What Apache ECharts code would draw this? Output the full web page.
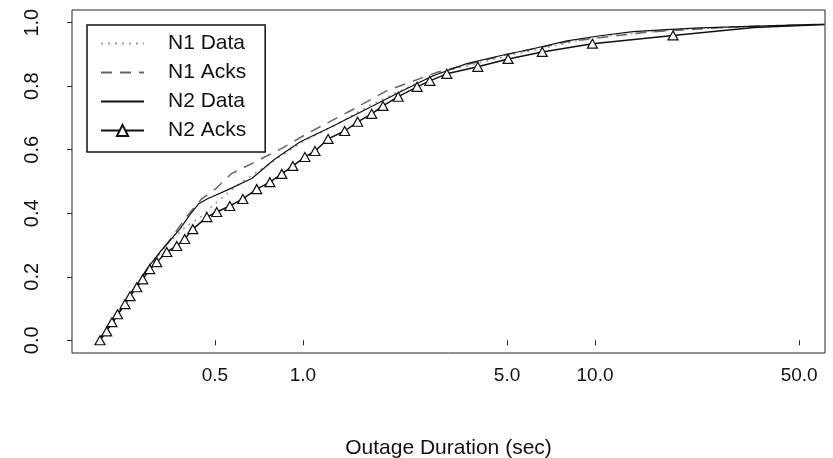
<!DOCTYPE html>
<html>
<head>
<meta charset="utf-8">
<script src="https://cdn.jsdelivr.net/npm/echarts@6/dist/echarts.min.js"></script>
<style>
  html, body { margin: 0; padding: 0; background: #fff; }
  #chart { width: 833px; height: 458px; }
</style>
</head>
<body>
<div id="chart"></div>
<script>
// x tick labels (log axis) and y tick labels
const xTicks = [0.5, 1, 5, 10, 50]
const yTicks = [0, 0.2, 0.4, 0.6, 0.8, 1.0]

// N1 Data (dotted)
const n1DataX = [0.2, 0.25, 0.3, 0.35, 0.4, 0.45, 0.5, 0.6, 0.75, 1.0, 1.3, 1.7, 2.2, 3.0, 5.0, 10, 20, 61]
const n1DataY = [0, 0.13, 0.24, 0.31, 0.36, 0.39, 0.43, 0.49, 0.55, 0.625, 0.68, 0.74, 0.79, 0.845, 0.895, 0.955, 0.98, 0.995]

// N1 Acks (dashed)
const n1AcksX = [0.2, 0.25, 0.3, 0.35, 0.4, 0.45, 0.5, 0.57, 0.68, 0.85, 1.03, 1.45, 1.94, 2.9, 5.0, 8.0, 15, 30, 61]
const n1AcksY = [0, 0.13, 0.235, 0.315, 0.39, 0.445, 0.475, 0.525, 0.56, 0.605, 0.65, 0.722, 0.786, 0.845, 0.9, 0.94, 0.97, 0.987, 0.995]

// N2 Data (solid)
const n2DataX = [0.2, 0.224, 0.256, 0.292, 0.324, 0.379, 0.41, 0.44, 0.47, 0.56, 0.67, 0.8, 0.98, 1.27, 1.66, 2.15, 2.79, 3.64, 4.73, 6.13, 8.02, 10.4, 13.5, 17.6, 22.9, 29.7, 38.7, 54.5, 61]
const n2DataY = [0, 0.057, 0.139, 0.224, 0.278, 0.35, 0.395, 0.43, 0.445, 0.476, 0.51, 0.57, 0.625, 0.675, 0.729, 0.782, 0.833, 0.871, 0.896, 0.918, 0.943, 0.959, 0.972, 0.978, 0.984, 0.987, 0.99, 0.994, 0.995]

// N2 Acks (triangles); the last two points carry the line on without a marker
const n2AcksX = [0.202, 0.213, 0.222, 0.232, 0.246, 0.256, 0.27, 0.283, 0.299, 0.316, 0.342, 0.37, 0.394, 0.42, 0.469, 0.507, 0.562, 0.623, 0.695, 0.771, 0.847, 0.924, 1.016, 1.1, 1.22, 1.39, 1.54, 1.72, 1.88, 2.12, 2.46, 2.72, 3.11, 3.97, 5.04, 6.6, 9.8, 18.5, 35, 61]
const n2AcksY = [0, 0.028, 0.057, 0.082, 0.114, 0.139, 0.167, 0.192, 0.224, 0.246, 0.278, 0.297, 0.319, 0.35, 0.388, 0.404, 0.423, 0.445, 0.476, 0.498, 0.524, 0.549, 0.577, 0.596, 0.634, 0.659, 0.688, 0.713, 0.738, 0.767, 0.798, 0.817, 0.839, 0.861, 0.886, 0.908, 0.934, 0.96, 0.985, 0.994]
const n2AcksMarked = 38

const pairs = (xs, ys) => xs.map((x, i) => [x, ys[i]])

const font = 'Liberation Sans, Arial, sans-serif'

const chart = echarts.init(document.getElementById('chart'))

const option = {
  backgroundColor: '#fff',
  animation: false,
  grid: {
    left: 72,
    right: 8,
    top: 10,
    bottom: 105,
    outerBoundsMode: 'none',
    show: true,
    borderColor: '#222',
    borderWidth: 1
  },
  legend: {
    orient: 'vertical',
    left: 87,
    top: 25,
    padding: [8, 19, 11, 13],
    borderColor: '#111',
    borderWidth: 1.5,
    backgroundColor: '#fff',
    itemWidth: 43,
    itemHeight: 14,
    itemGap: 8,
    textStyle: {
      fontFamily: font,
      fontSize: 21,
      color: '#111',
      padding: [0, 0, 0, 19]
    },
    data: [
      { name: 'N1 Data', itemStyle: { opacity: 0 } },
      { name: 'N1 Acks', itemStyle: { opacity: 0 } },
      { name: 'N2 Data', itemStyle: { opacity: 0 } },
      { name: 'N2 Acks' }
    ]
  },
  xAxis: {
    type: 'log',
    min: 0.162,
    max: 61.3,
    name: 'Outage Duration (sec)',
    nameLocation: 'middle',
    nameGap: 85,
    nameTextStyle: { fontFamily: font, fontSize: 21, color: '#111' },
    axisLine: { show: false },
    axisTick: { show: true, length: 5, customValues: xTicks, lineStyle: { color: '#222' } },
    axisLabel: {
      customValues: xTicks,
      margin: 13,
      fontFamily: font,
      fontSize: 19,
      color: '#111',
      formatter: v => Number(v).toFixed(1)
    },
    splitLine: { show: false },
    minorTick: { show: false }
  },
  yAxis: {
    type: 'value',
    min: -0.04,
    max: 1.04,
    axisLine: { show: false },
    axisTick: { show: true, length: 5, customValues: yTicks, lineStyle: { color: '#222' } },
    axisLabel: {
      customValues: yTicks,
      rotate: 90,
      margin: 30,
      fontFamily: font,
      fontSize: 20,
      color: '#111',
      formatter: v => Number(v).toFixed(1)
    },
    splitLine: { show: false }
  },
  series: [
    {
      name: 'N1 Data',
      type: 'line',
      data: pairs(n1DataX, n1DataY),
      symbol: 'none',
      lineStyle: { color: '#999', width: 1.5, type: [2, 5] },
      itemStyle: { color: '#999' }
    },
    {
      name: 'N1 Acks',
      type: 'line',
      data: pairs(n1AcksX, n1AcksY),
      symbol: 'none',
      lineStyle: { color: '#666', width: 1.5, type: [11, 8] },
      itemStyle: { color: '#666' }
    },
    {
      name: 'N2 Data',
      type: 'line',
      data: pairs(n2DataX, n2DataY),
      symbol: 'none',
      lineStyle: { color: '#111', width: 1.2 },
      itemStyle: { color: '#111' }
    },
    {
      name: 'N2 Acks',
      type: 'line',
      data: pairs(n2AcksX, n2AcksY).map((p, i) =>
        i < n2AcksMarked ? p : { value: p, symbol: 'none' }),
      symbol: 'triangle',
      symbolSize: [10, 9],
      showAllSymbol: true,
      lineStyle: { color: '#111', width: 1.5 },
      itemStyle: { color: '#fff', borderColor: '#111', borderWidth: 1.2 }
    }
  ]
}

chart.setOption(option)
</script>
</body>
</html>
